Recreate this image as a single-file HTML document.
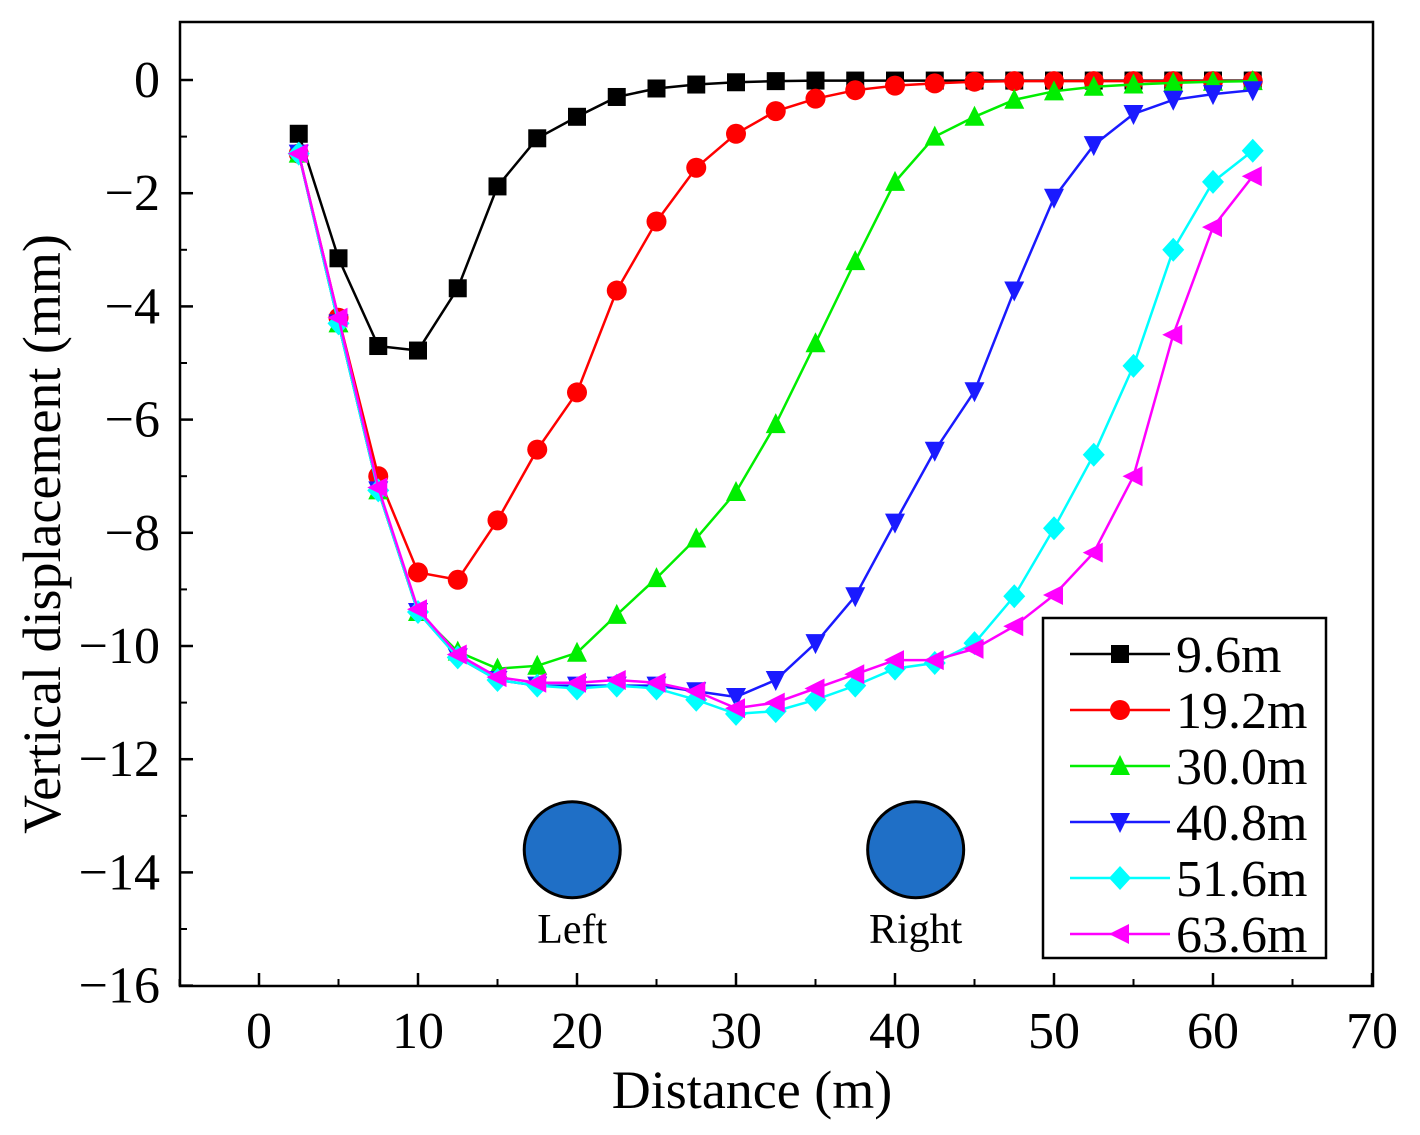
<!DOCTYPE html>
<html><head><meta charset="utf-8"><style>
html,body{margin:0;padding:0;background:#fff}
svg{display:block;font-family:"Liberation Serif",serif}
</style></head><body>
<svg id="chart" width="1420" height="1135" viewBox="0 0 1420 1135" xmlns="http://www.w3.org/2000/svg"></svg>
<script>
const xs=[2.5,5,7.5,10,12.5,15,17.5,20,22.5,25,27.5,30,32.5,35,37.5,40,42.5,45,47.5,50,52.5,55,57.5,60,62.5];
const seriesNames=["9.6m","19.2m","30.0m","40.8m","51.6m","63.6m"];
const s96=[-0.95,-3.15,-4.7,-4.78,-3.68,-1.88,-1.03,-0.65,-0.3,-0.15,-0.08,-0.04,-0.02,-0.01,-0.01,-0.01,-0.01,-0.01,-0.01,-0.01,-0.01,-0.01,-0.01,-0.01,-0.01];
const s192=[-1.3,-4.2,-7.0,-8.7,-8.83,-7.78,-6.53,-5.52,-3.72,-2.5,-1.55,-0.95,-0.55,-0.33,-0.18,-0.1,-0.06,-0.03,-0.02,-0.02,-0.02,-0.02,-0.02,-0.02,-0.02];
const s300=[-1.3,-4.3,-7.25,-9.4,-10.1,-10.4,-10.35,-10.12,-9.45,-8.8,-8.1,-7.28,-6.08,-4.65,-3.2,-1.8,-1.0,-0.65,-0.35,-0.2,-0.12,-0.08,-0.05,-0.03,-0.02];
const s408=[-1.3,-4.3,-7.25,-9.4,-10.2,-10.6,-10.7,-10.7,-10.7,-10.7,-10.8,-10.9,-10.6,-9.95,-9.12,-7.82,-6.55,-5.5,-3.72,-2.08,-1.15,-0.6,-0.35,-0.25,-0.18];
const s516=[-1.3,-4.3,-7.25,-9.4,-10.2,-10.6,-10.7,-10.75,-10.7,-10.75,-10.95,-11.2,-11.15,-10.95,-10.7,-10.4,-10.3,-9.95,-9.12,-7.92,-6.62,-5.05,-3.0,-1.8,-1.25];
const s636=[-1.3,-4.2,-7.2,-9.35,-10.15,-10.55,-10.65,-10.65,-10.6,-10.65,-10.8,-11.1,-11.0,-10.75,-10.5,-10.25,-10.25,-10.05,-9.65,-9.1,-8.35,-7.0,-4.5,-2.6,-1.7];
const xTicks=[0,10,20,30,40,50,60,70];
const yTicks=[0,-2,-4,-6,-8,-10,-12,-14,-16];
const yTickLabels=["0","\u22122","\u22124","\u22126","\u22128","\u221210","\u221212","\u221214","\u221216"];
const tunnelXs=[19.7,41.3];
const tunnelLabels=["Left","Right"];
const tunnelY=-13.6;

const svg=document.getElementById('chart');
const NS="http://www.w3.org/2000/svg";
const L=180,R=1373,T=22,B=986;
const X=v=>259+(v)*15.9;
const Y=v=>80-v*56.6;
function el(tag,attrs,parent){const e=document.createElementNS(NS,tag);for(const k in attrs)e.setAttribute(k,attrs[k]);(parent||svg).appendChild(e);return e;}

const frame=el('rect',{x:L,y:T,width:R-L,height:B-T,fill:'none',stroke:'#000','stroke-width':2.5});



xTicks.forEach((t,i)=>{
  const x=X(t);
  const tk=el('line',{x1:x,x2:x,y1:B,y2:B-13,stroke:'#000','stroke-width':2.5});
  
  
  if(i<xTicks.length-1){const xm=X(t+5);el('line',{x1:xm,x2:xm,y1:B,y2:B-7,stroke:'#000','stroke-width':2});}
  const tx=el('text',{x:x,y:1048,'font-size':52,'text-anchor':'middle'});tx.textContent=t;
  
  
});
el('line',{x1:X(-5),x2:X(-5),y1:B,y2:B-7,stroke:'#000','stroke-width':2});
yTicks.forEach((t,i)=>{
  const y=Y(t);
  const tk=el('line',{x1:L,x2:L+13,y1:y,y2:y,stroke:'#000','stroke-width':2.5});
  
  
  if(i>0){const ym=Y(t+1);el('line',{x1:L,x2:L+7,y1:ym,y2:ym,stroke:'#000','stroke-width':2});}
  const tx=el('text',{x:160,y:y+17,'font-size':52,'text-anchor':'end'});tx.textContent=yTickLabels[i];
  
  
});
const xt=el('text',{x:752,y:1108,'font-size':54,'text-anchor':'middle'});xt.textContent="Distance (m)";


const yt=el('text',{x:60,y:534,'font-size':54,'text-anchor':'middle',transform:'rotate(-90 60 534)'});yt.textContent="Vertical displacement (mm)";



tunnelXs.forEach((t,i)=>{
  const c=el('circle',{cx:X(t),cy:Y(tunnelY),r:48,fill:'#1f6fc6',stroke:'#000','stroke-width':3});
  
  
  const tx=el('text',{x:X(t),y:943,'font-size':42,'text-anchor':'middle'});tx.textContent=tunnelLabels[i];
  
  
});

const colors=['#000000','#ff0000','#00ee00','#1a1aff','#00ffff','#ff00ff'];
const markers=['square','circle','up','down','diamond','left'];
const data=[s96,s192,s300,s408,s516,s636];
function marker(type,x,y,c,g){
  const s=9;
  if(type==='square')return el('rect',{x:x-s,y:y-s,width:2*s,height:2*s,fill:c},g);
  if(type==='circle')return el('circle',{cx:x,cy:y,r:s+1,fill:c},g);
  let p;
  if(type==='up')p=[[x,y-s-2],[x+s+1,y+s],[x-s-1,y+s]];
  if(type==='down')p=[[x,y+s+2],[x+s+1,y-s],[x-s-1,y-s]];
  if(type==='diamond')p=[[x,y-s-3],[x+s+2,y],[x,y+s+3],[x-s-2,y]];
  if(type==='left')p=[[x-s-2,y],[x+s,y-s-1],[x+s,y+s+1]];
  return el('polygon',{points:p.map(q=>q.join(',')).join(' '),fill:c},g);
}
data.forEach((d,si)=>{
  const g=el('g',{});
  
  
  el('polyline',{points:xs.map((x,i)=>X(x)+','+Y(d[i])).join(' '),fill:'none',stroke:colors[si],'stroke-width':2.5},g);
  xs.forEach((x,i)=>{
    const m=marker(markers[si],X(x),Y(d[i]),colors[si],g);
    
    
  });
});

const lg=el('g',{});


el('rect',{x:1043,y:618,width:283,height:340,fill:'#fff',stroke:'#000','stroke-width':2.5},lg);
seriesNames.forEach((n,i)=>{
  const y=654+i*56;
  const e=el('g',{},lg);
  
  
  el('line',{x1:1070,x2:1170,y1:y,y2:y,stroke:colors[i],'stroke-width':2.5},e);
  marker(markers[i],1120,y,colors[i],e);
  const t=el('text',{x:1176,y:y+18,'font-size':52},e);t.textContent=n;
});
</script>
</body></html>
